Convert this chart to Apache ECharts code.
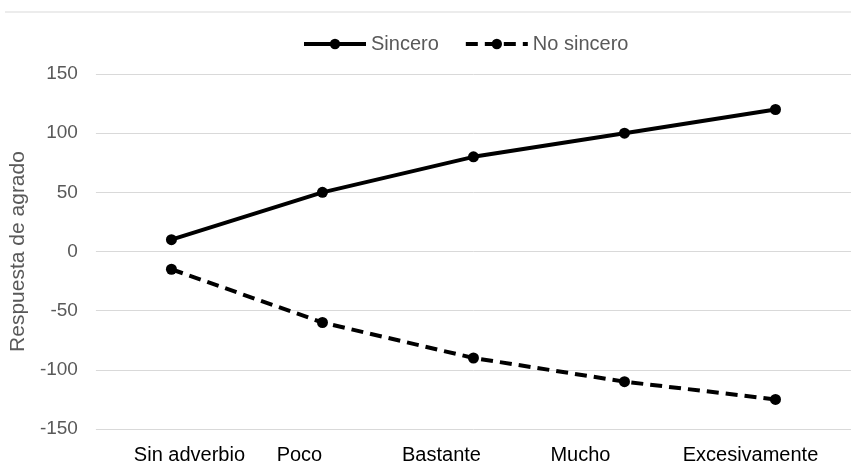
<!DOCTYPE html>
<html>
<head>
<meta charset="utf-8">
<script src="https://cdn.jsdelivr.net/npm/echarts@6/dist/echarts.min.js"></script>
<style>
  html, body { margin: 0; padding: 0; background: #fff; }
  #chart { width: 851px; height: 466px; }
</style>
</head>
<body>
<div id="chart"></div>
<script>
// Categories and series values
const categories = ['Sin adverbio', 'Poco', 'Bastante', 'Mucho', 'Excesivamente'];
const sincero = [10, 50, 80, 100, 120];
const noSincero = [-15, -60, -90, -110, -125];
const yTicks = { min: -150, max: 150, interval: 50 };

// Horizontal nudge (px) of each category label relative to its tick
const labelNudge = [18, -23, -32, -44, -25];

const font = 'Liberation Sans, Arial, sans-serif';
const textGray = '#595959';

// One rich style per category label; padding on one side shifts a centered label
const labelRich = {};
labelNudge.forEach((d, i) => {
  labelRich['c' + i] = {
    color: '#000',
    fontSize: 20,
    fontFamily: font,
    padding: d >= 0 ? [0, 0, 0, 2 * d] : [0, -2 * d, 0, 0]
  };
});

const chart = echarts.init(document.getElementById('chart'));
chart.setOption({
  backgroundColor: '#ffffff',
  animation: false,
  textStyle: { fontFamily: font },
  graphic: [{
    type: 'line',
    shape: { x1: 5, y1: 12, x2: 851, y2: 12 },
    style: { stroke: '#d9d9d9', lineWidth: 1 }
  }],
  legend: {
    top: 34,
    left: 302,
    padding: 0,
    itemWidth: 62,
    itemHeight: 13,
    itemGap: 25,
    lineStyle: { width: 4 },
    textStyle: { color: textGray, fontSize: 20, fontFamily: font },
    data: ['Sincero', 'No sincero']
  },
  grid: { left: 95, right: -4, top: 74, height: 355 },
  xAxis: {
    type: 'category',
    data: categories,
    boundaryGap: true,
    axisLine: { show: false },
    axisTick: { show: false },
    axisLabel: {
      interval: 0,
      margin: 16,
      formatter: (value, index) => '{c' + index + '|' + value + '}',
      rich: labelRich
    }
  },
  yAxis: {
    type: 'value',
    min: yTicks.min,
    max: yTicks.max,
    interval: yTicks.interval,
    name: 'Respuesta de agrado',
    nameLocation: 'middle',
    nameGap: 66,
    nameTextStyle: { color: textGray, fontSize: 21, fontFamily: font },
    axisLine: { show: false },
    axisTick: { show: false },
    axisLabel: { color: textGray, fontSize: 19, fontFamily: font, margin: 18 },
    splitLine: { lineStyle: { color: '#d9d9d9', width: 1 } }
  },
  series: [{
    name: 'Sincero',
    type: 'line',
    data: sincero,
    symbol: 'circle',
    symbolSize: 11,
    color: '#000',
    lineStyle: { color: '#000', width: 4 },
    itemStyle: { color: '#000' }
  }, {
    name: 'No sincero',
    type: 'line',
    data: noSincero,
    symbol: 'circle',
    symbolSize: 11,
    color: '#000',
    lineStyle: { color: '#000', width: 4, type: [12, 7] },
    itemStyle: { color: '#000' }
  }]
});
</script>
</body>
</html>
